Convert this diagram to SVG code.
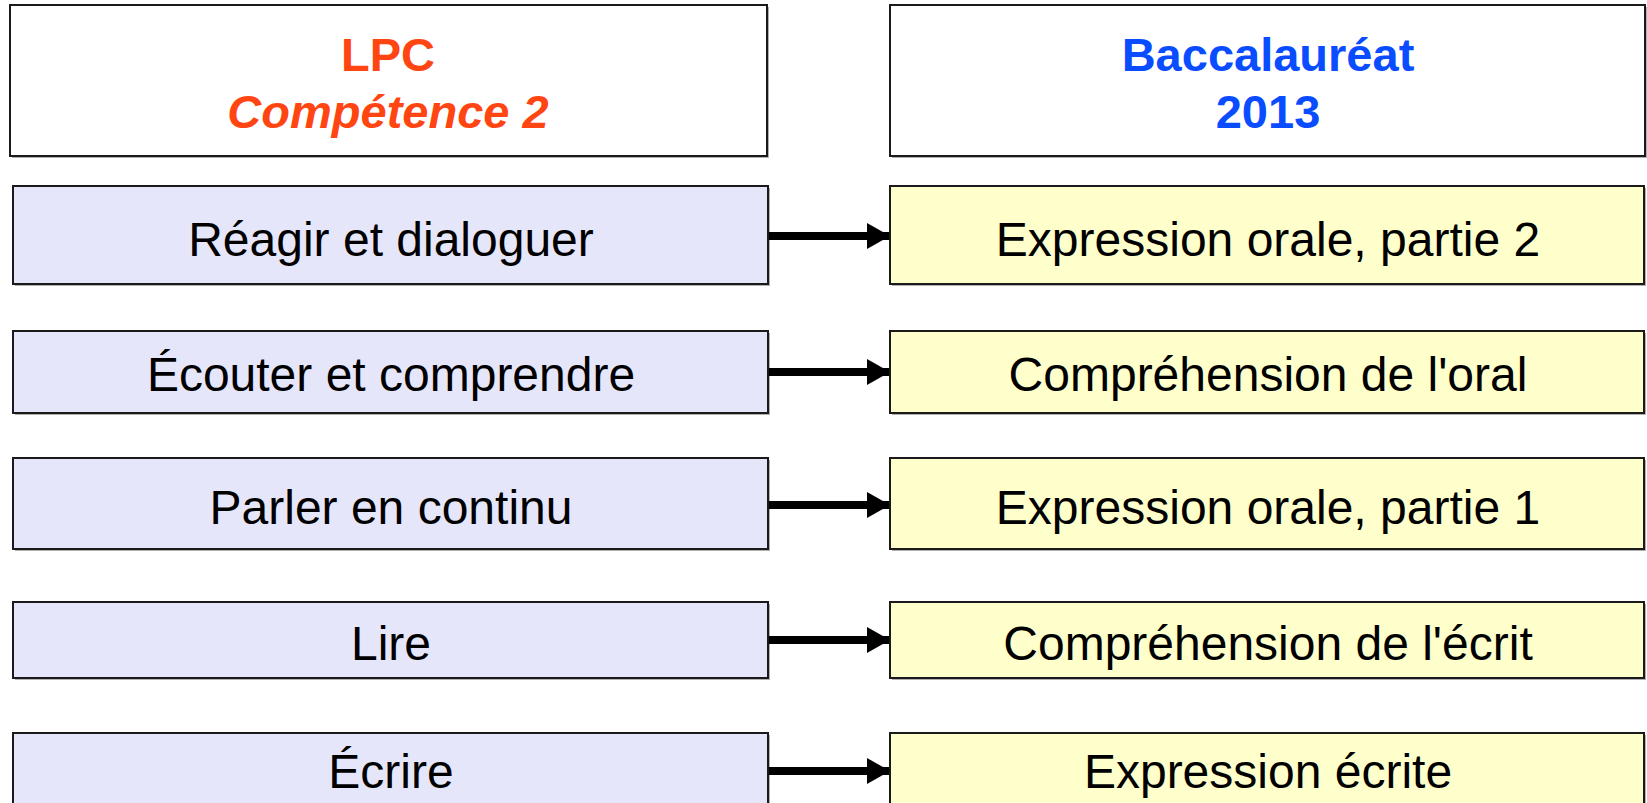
<svg xmlns="http://www.w3.org/2000/svg" width="1647" height="803" viewBox="0 0 1647 803">
<style>
.box{stroke:#1a1a1a;stroke-width:2}
.hdr{fill:#ffffff}
.lpc{fill:#e6e6fb}
.bac{fill:#ffffcc}
.shadow{fill:#b0b0b0}
.t{font-family:"Liberation Sans",Arial,sans-serif;font-size:48px;fill:#000;text-anchor:middle}
.h{font-family:"Liberation Sans",Arial,sans-serif;font-size:47px;font-weight:bold;text-anchor:middle}
.or{fill:#ff4512}
.bl{fill:#0a4cff}
.conn{stroke:#000;stroke-width:8;fill:none}
</style>
<defs>
<marker id="ah" markerUnits="userSpaceOnUse" markerWidth="24" markerHeight="26" refX="22" refY="13" orient="auto">
<path d="M0,0 L23,13 L0,26 Z" fill="#000"/>
</marker>
</defs>
<rect width="1647" height="803" fill="#ffffff"/>
<g id="header-lpc">
<rect class="shadow" x="12" y="7" width="757" height="151"/>
<rect class="box hdr" x="10" y="5" width="757" height="151"/>
<text class="h or" x="388" y="71">LPC</text>
<text class="h or" x="388" y="128" font-style="italic">Compétence 2</text>
</g>
<g id="header-bac">
<rect class="shadow" x="892" y="7" width="755" height="151"/>
<rect class="box hdr" x="890" y="5" width="755" height="151"/>
<text class="h bl" x="1268" y="71">Baccalauréat</text>
<text class="h bl" x="1268" y="128">2013</text>
</g>
<g id="lpc-1">
<rect class="shadow" x="15" y="188" width="755" height="98"/>
<rect class="box lpc" x="13" y="186" width="755" height="98"/>
<text class="t" x="391" y="256">Réagir et dialoguer</text>
</g>
<g id="lpc-2">
<rect class="shadow" x="15" y="333" width="755" height="82"/>
<rect class="box lpc" x="13" y="331" width="755" height="82"/>
<text class="t" x="391" y="391">Écouter et comprendre</text>
</g>
<g id="lpc-3">
<rect class="shadow" x="15" y="460" width="755" height="91"/>
<rect class="box lpc" x="13" y="458" width="755" height="91"/>
<text class="t" x="391" y="524">Parler en continu</text>
</g>
<g id="lpc-4">
<rect class="shadow" x="15" y="604" width="755" height="76"/>
<rect class="box lpc" x="13" y="602" width="755" height="76"/>
<text class="t" x="391" y="660">Lire</text>
</g>
<g id="lpc-5">
<rect class="shadow" x="15" y="735" width="755" height="80"/>
<rect class="box lpc" x="13" y="733" width="755" height="80"/>
<text class="t" x="391" y="788">Écrire</text>
</g>
<g id="bac-1">
<rect class="shadow" x="892" y="188" width="754" height="98"/>
<rect class="box bac" x="890" y="186" width="754" height="98"/>
<text class="t" x="1268" y="256">Expression orale, partie 2</text>
</g>
<g id="bac-2">
<rect class="shadow" x="892" y="333" width="754" height="82"/>
<rect class="box bac" x="890" y="331" width="754" height="82"/>
<text class="t" x="1268" y="391">Compréhension de l'oral</text>
</g>
<g id="bac-3">
<rect class="shadow" x="892" y="460" width="754" height="91"/>
<rect class="box bac" x="890" y="458" width="754" height="91"/>
<text class="t" x="1268" y="524">Expression orale, partie 1</text>
</g>
<g id="bac-4">
<rect class="shadow" x="892" y="604" width="754" height="76"/>
<rect class="box bac" x="890" y="602" width="754" height="76"/>
<text class="t" x="1268" y="660">Compréhension de l'écrit</text>
</g>
<g id="bac-5">
<rect class="shadow" x="892" y="735" width="754" height="80"/>
<rect class="box bac" x="890" y="733" width="754" height="80"/>
<text class="t" x="1268" y="788">Expression écrite</text>
</g>
<g id="connectors">
<line class="conn" x1="769" y1="236" x2="889" y2="236" marker-end="url(#ah)"/>
<line class="conn" x1="769" y1="372" x2="889" y2="372" marker-end="url(#ah)"/>
<line class="conn" x1="769" y1="505" x2="889" y2="505" marker-end="url(#ah)"/>
<line class="conn" x1="769" y1="640" x2="889" y2="640" marker-end="url(#ah)"/>
<line class="conn" x1="769" y1="771" x2="889" y2="771" marker-end="url(#ah)"/>
</g>
</svg>
